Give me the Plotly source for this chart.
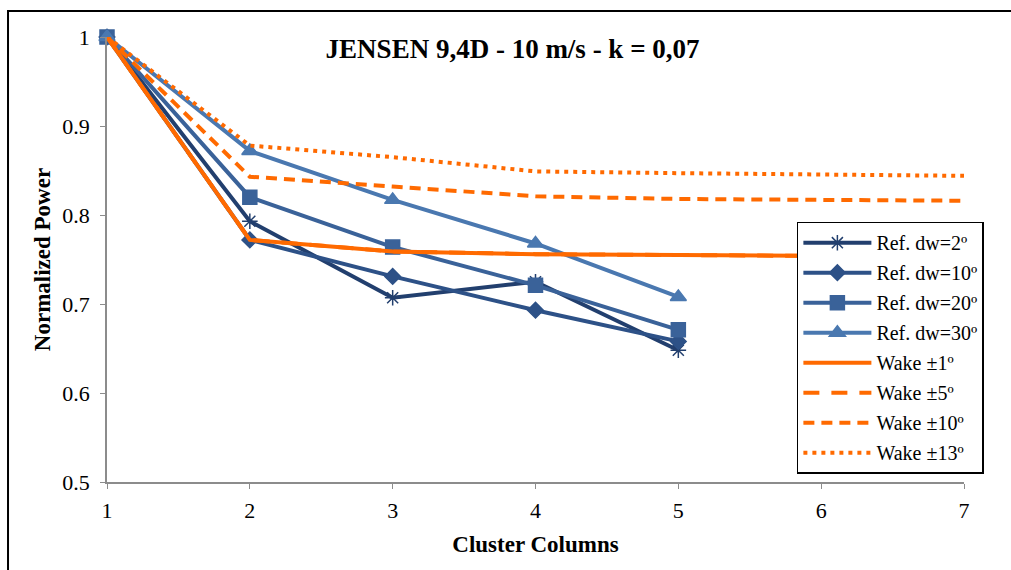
import plotly.graph_objects as go

# Cluster column index along the row of turbines
columns = [1, 2, 3, 4, 5, 6, 7]
ref_columns = [1, 2, 3, 4, 5]

# Reference (measured) normalized power for several wind direction bins
ref_dw2 = [1.0, 0.793, 0.707, 0.725, 0.648]
ref_dw10 = [1.0, 0.772, 0.731, 0.693, 0.658]
ref_dw20 = [1.0, 0.820, 0.764, 0.721, 0.671]
ref_dw30 = [1.0, 0.872, 0.817, 0.768, 0.708]

# Jensen wake model results for several sector widths
wake_1 = [1.0, 0.772, 0.759, 0.756, 0.755, 0.754, 0.753]
wake_5 = [1.0, 0.772, 0.759, 0.756, 0.755, 0.754, 0.753]
wake_10 = [1.0, 0.843, 0.832, 0.821, 0.818, 0.817, 0.816]
wake_13 = [1.0, 0.878, 0.865, 0.849, 0.847, 0.845, 0.844]

x_ticks = [1, 2, 3, 4, 5, 6, 7]
y_ticks = [0.5, 0.6, 0.7, 0.8, 0.9, 1.0]
y_tick_text = ["0.5", "0.6", "0.7", "0.8", "0.9", "1"]

SERIF = "Liberation Serif"
ORANGE = "#FF6A00"

fig = go.Figure()

ref_series = [
    ("Ref. dw=2º", ref_dw2, "#223F6E", "asterisk-open", 13),
    ("Ref. dw=10º", ref_dw10, "#2D5187", "diamond", 12),
    ("Ref. dw=20º", ref_dw20, "#3A6299", "square", 14),
    ("Ref. dw=30º", ref_dw30, "#4A78B0", "triangle-up", 14),
]
for i, (name, vals, color, symbol, size) in enumerate(ref_series):
    fig.add_trace(go.Scatter(
        x=ref_columns, y=vals, name=name, mode="lines+markers",
        legendgroup=f"g{i}",
        line=dict(color=color, width=4),
        marker=dict(symbol=symbol, size=size, color=color,
                    line=dict(color=color, width=1.5)),
        cliponaxis=False,
    ))

wake_series = [
    ("Wake ±1º", wake_1, "solid"),
    ("Wake ±5º", wake_5, "16px,12px"),
    ("Wake ±10º", wake_10, "11px,7px"),
    ("Wake ±13º", wake_13, "4px,5px"),
]
for i, (name, vals, dash) in enumerate(wake_series):
    fig.add_trace(go.Scatter(
        x=columns, y=vals, name=name, mode="lines",
        legendgroup=f"w{i}",
        line=dict(color=ORANGE, width=4, dash=dash),
        cliponaxis=False,
    ))

fig.update_layout(
    width=1011, height=570,
    margin=dict(l=107, r=47, t=37, b=88),
    paper_bgcolor="white", plot_bgcolor="white",
    font=dict(family=SERIF, color="black", size=18),
    title=dict(text="<b>JENSEN 9,4D - 10 m/s - k = 0,07</b>",
               x=0.507, xref="container", y=0.915, yref="container",
               xanchor="center", yanchor="middle",
               font=dict(family=SERIF, size=27, color="black")),
    showlegend=True,
    legend=dict(x=0.805, y=0.585, xanchor="left", yanchor="top",
                bgcolor="white", bordercolor="black", borderwidth=1.5,
                font=dict(family=SERIF, size=20, color="black"),
                traceorder="grouped", tracegroupgap=1, itemwidth=68),
    xaxis=dict(range=[1, 7], tickvals=x_ticks, showgrid=False, zeroline=False,
               showline=True, linecolor="#8C8C8C", linewidth=1.5,
               ticks="outside", ticklen=5, tickcolor="#8C8C8C",
               ticklabelstandoff=3,
               tickfont=dict(family=SERIF, size=22),
               title=dict(text="<b>Cluster Columns</b>",
                          font=dict(family=SERIF, size=23), standoff=14)),
    yaxis=dict(range=[0.5, 1.0], tickvals=y_ticks, ticktext=y_tick_text,
               showgrid=False, zeroline=False,
               showline=True, linecolor="#8C8C8C", linewidth=1.5,
               ticks="outside", ticklen=5, tickcolor="#8C8C8C",
               ticklabelstandoff=6,
               tickfont=dict(family=SERIF, size=22),
               title=dict(text="<b>Normalized Power</b>",
                          font=dict(family=SERIF, size=23), standoff=5)),
    shapes=[
        dict(type="rect", xref="paper", yref="paper",
             x0=-0.1155, x1=1.07, y0=-0.23, y1=1.0584,
             line=dict(color="black", width=2), layer="below"),
    ],
)

fig.write_html("out.html")
